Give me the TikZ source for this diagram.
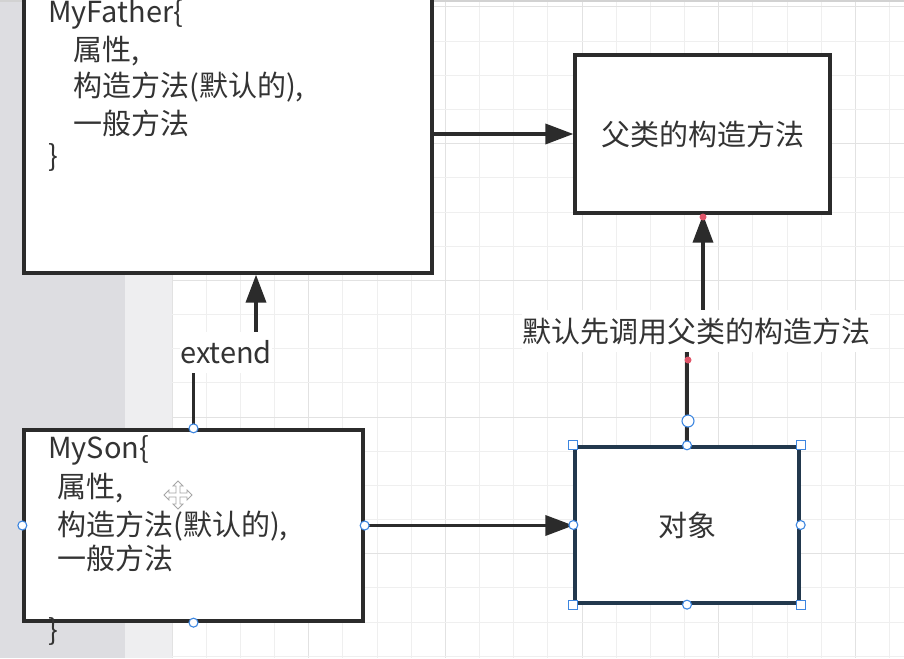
\documentclass[tikz,border=0pt]{standalone}
\usepackage{fontspec}
\setmainfont{Noto Sans CJK SC}
\usetikzlibrary{arrows.meta,calc}
\definecolor{ink}{HTML}{333333}
\definecolor{boxline}{HTML}{2B2B2B}
\definecolor{selline}{HTML}{22384D}
\definecolor{hblue}{HTML}{3D86E0}
\definecolor{dotred}{HTML}{E0566A}
\definecolor{panel}{HTML}{DDDDE1}
\definecolor{panellight}{HTML}{EEEEF0}
\definecolor{gridminor}{HTML}{EFEFEF}
\definecolor{gridmajor}{HTML}{E2E2E2}
\tikzset{
  boxnode/.style={draw=boxline, line width=3.3pt, fill=white, rectangle, inner sep=0pt},
  edge/.style={draw=boxline, line width=3.6pt, -{Triangle[length=28pt,width=20pt]}},
  txt/.style={font=\fontsize{29}{34}\selectfont, text=ink, inner sep=0pt},
  lbl/.style={font=\fontsize{29}{34}\selectfont, text=ink, fill=white, inner sep=0pt},
  hcirc/.style={draw=hblue, fill=white, line width=1.1pt},
}
\begin{document}
\begin{tikzpicture}[x=1pt,y=-1pt]
\useasboundingbox (0,0) rectangle (904,658);
% background
\fill[white] (0,0) rectangle (904,658);
\fill[panel] (0,0) rectangle (125,658);
\fill[panellight] (125,0) rectangle (172,658);
% grid
\foreach \k in {0,...,21} {
  \pgfmathsetmacro{\xx}{172+34.17*\k}
  \pgfmathtruncatemacro{\m}{mod(\k,4)}
  \ifnum\m=0
    \draw[gridmajor, line width=1pt] (\xx,0) -- (\xx,658);
  \else
    \draw[gridminor, line width=0.9pt] (\xx,0) -- (\xx,658);
  \fi
}
\foreach \k in {0,...,19} {
  \pgfmathsetmacro{\yy}{7+34.17*\k}
  \pgfmathtruncatemacro{\m}{mod(\k,4)}
  \ifnum\m=0
    \draw[gridmajor, line width=1pt] (172,\yy) -- (904,\yy);
  \else
    \draw[gridminor, line width=0.9pt] (172,\yy) -- (904,\yy);
  \fi
}
\fill[gray!35] (0,0) rectangle (904,2.5);

% boxes
\node[boxnode, minimum width=408pt, minimum height=313pt] (father) at (228,116.5) {};
\node[boxnode, minimum width=255pt, minimum height=158pt] (parent) at (702.5,134) {};
\node[boxnode, minimum width=339pt, minimum height=191pt] (son) at (193.5,525.5) {};
\node[boxnode, draw=selline, minimum width=224pt, minimum height=156pt] (obj) at (687,525) {};

% father text
\node[txt, anchor=base west] (f1) at (48,23) {MyFather\{};
\node[txt, anchor=base west] (f2) at (73,61) {属性,};
\node[txt, anchor=base west] (f3) at (73,97) {构造方法(默认的),};
\node[txt, anchor=base west] (f4) at (73,134) {一般方法};
\node[txt, anchor=base west] (f5) at (48,166) {\}};

% son text
\node[txt, anchor=base west] (s1) at (48,458) {MySon\{};
\node[txt, anchor=base west] (s2) at (57,497) {属性,};
\node[txt, anchor=base west] (s3) at (57,535.5) {构造方法(默认的),};
\node[txt, anchor=base west] (s4) at (57,569) {一般方法};
\node[txt, anchor=base west] (s5) at (48,640) {\}};

% other texts
\node[txt] (ptext) at (parent.center) {父类的构造方法};
\node[txt] (otext) at (obj.center) {对象};

% edges
\draw[edge] (father.east |- parent.west) -- (parent.west);
\draw[edge] (son.east) -- (son.east -| obj.west);

\coordinate (e2) at (256,352);
\draw[edge] (son.north) |- (e2) -- (father.south -| e2);
\node[lbl, minimum height=41pt, minimum width=92pt] (extlbl) at (226,352) {extend};

\coordinate (c2) at (703,333);
\draw[edge] (obj.north) |- (c2) -- (parent.south -| c2);
\node[lbl, minimum height=42pt] (calllbl) at (696,331) {默认先调用父类的构造方法};

% red dots
\fill[dotred] (703,217) circle (3.5pt);
\fill[dotred] (688,360) circle (3.5pt);

% selection handles
\foreach \a in {north,south,east,west} {
  \filldraw[hcirc] (son.\a) circle (4.5pt);
  \filldraw[hcirc] (obj.\a) circle (4.5pt);
}
\foreach \a in {north west,north east,south west,south east} {
  \filldraw[hcirc] ($(obj.\a)+(-4.5,-4.5)$) rectangle ++(9,9);
}
\filldraw[hcirc] (688,421) circle (6pt);

% move cursor
\begin{scope}[shift={(178,495)}]
\filldraw[draw=gray!70, fill=white, line width=0.8pt]
  (0,-14) -- (5,-9) -- (2,-9) -- (2,-2) -- (9,-2) -- (9,-5) -- (14,0) -- (9,5) -- (9,2) -- (2,2) -- (2,9) -- (5,9) -- (0,14) -- (-5,9) -- (-2,9) -- (-2,2) -- (-9,2) -- (-9,5) -- (-14,0) -- (-9,-5) -- (-9,-2) -- (-2,-2) -- (-2,-9) -- (-5,-9) -- cycle;
\end{scope}
\end{tikzpicture}
\end{document}
